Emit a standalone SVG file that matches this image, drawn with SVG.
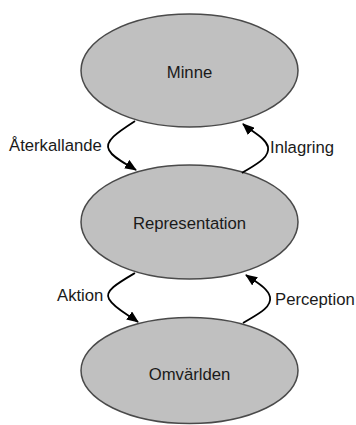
<svg xmlns="http://www.w3.org/2000/svg" width="356" height="425" viewBox="0 0 356 425">
<style>
.node ellipse{fill:#c0c0c0;stroke:#4a4a4a;stroke-width:1.5}
.node text{font-family:"Liberation Sans",Arial,sans-serif;font-size:16.7px;fill:#1a1a1a;text-anchor:middle}
.lbl{font-family:"Liberation Sans",Arial,sans-serif;font-size:16.7px;fill:#1a1a1a}
.edge{fill:none;stroke:#000;stroke-width:1.8}
</style>
<defs>
<marker id="arr" markerWidth="12" markerHeight="10" refX="11" refY="5" orient="auto" markerUnits="userSpaceOnUse">
<path d="M0,0 L12,5 L0,10 z" fill="#000"/>
</marker>
</defs>
<rect width="356" height="425" fill="#fff"/>
<g id="minne" class="node">
<ellipse cx="189.5" cy="70.5" rx="108.5" ry="56.5"/>
<text x="189.5" y="78">Minne</text>
</g>
<g id="representation" class="node">
<ellipse cx="189.5" cy="222" rx="108.5" ry="57"/>
<text x="189.5" y="229">Representation</text>
</g>
<g id="omvarlden" class="node">
<ellipse cx="189.5" cy="370.5" rx="108.5" ry="53"/>
<text x="189.5" y="380">Omvärlden</text>
</g>
<g id="connectors">
<path class="edge" d="M135,121 C118,132 104,141 109,150 C113,158 125,163 136,170" marker-end="url(#arr)"/>
<path class="edge" d="M242,173 C255,165 270,158 268,147 C266,138 252,132 243,124" marker-end="url(#arr)"/>
<path class="edge" d="M135,273 C118,283 104,291 109,299 C114,308 127,314 138,322" marker-end="url(#arr)"/>
<path class="edge" d="M243,323 C256,315 272,308 270,297 C268,288 256,282 246,275" marker-end="url(#arr)"/>
</g>
<g id="labels">
<text class="lbl" x="9" y="151">Återkallande</text>
<text class="lbl" x="270" y="153">Inlagring</text>
<text class="lbl" x="57" y="301">Aktion</text>
<text class="lbl" x="275" y="305">Perception</text>
</g>
</svg>
